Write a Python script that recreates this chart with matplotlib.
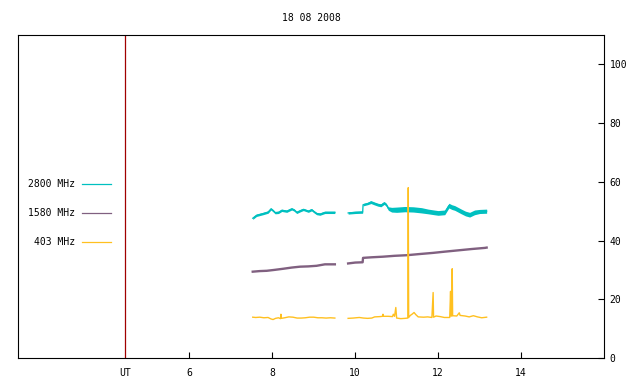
import matplotlib
matplotlib.use("Agg")
import matplotlib.pyplot as plt
import numpy as np

title = "18 08 2008"
series_names = ["2800 MHz", "1580 MHz", "403 MHz"]
colors = ["#00c0c0", "#806080", "#ffc020"]
marker_hour = 4.45
x_ticks = [6, 8, 10, 12, 14]
y_ticks = [0, 20, 40, 60, 80, 100]

# 2800 MHz (two segments): hours, values, band half-width
c1_t = [7.53, 7.62, 7.70, 7.78, 7.90, 7.97, 8.02, 8.07, 8.15, 8.23, 8.35, 8.47, 8.53, 8.59,
        8.68, 8.75, 8.87, 8.95, 9.01, 9.07, 9.15, 9.27, 9.40, 9.51]
c1_v = [47.6, 48.6, 48.9, 49.2, 49.7, 50.8, 50.2, 49.5, 49.6, 50.3, 50.0, 50.8, 50.4, 49.6,
        50.2, 50.6, 50.0, 50.5, 49.8, 49.2, 49.0, 49.6, 49.6, 49.6]
c1_s = [0.4] * len(c1_t)
c2_t = [9.83, 10.00, 10.18, 10.19, 10.30, 10.38, 10.47, 10.55, 10.62, 10.70, 10.75, 10.80,
        10.88, 11.00, 11.20, 11.40, 11.60, 11.76, 11.90, 12.00, 12.16, 12.26, 12.33, 12.40,
        12.48, 12.56, 12.66, 12.76, 12.88, 13.00, 13.17]
c2_v = [49.4, 49.6, 49.7, 52.2, 52.6, 53.1, 52.6, 52.2, 52.0, 52.8, 52.2, 50.9,
        50.5, 50.5, 50.7, 50.6, 50.3, 49.9, 49.6, 49.4, 49.6, 51.9, 51.4, 51.1,
        50.5, 49.9, 49.2, 48.8, 49.6, 49.9, 50.0]
c2_s = [0.4, 0.4, 0.4, 0.4, 0.4, 0.5, 0.5, 0.5, 0.5, 0.5, 0.5, 0.6,
        0.8, 0.9, 0.9, 0.9, 0.9, 0.8, 0.8, 0.8, 0.8, 0.8, 0.8, 0.8,
        0.8, 0.8, 0.8, 0.8, 0.8, 0.7, 0.7]

# 1580 MHz
p1_t = [7.53, 7.70, 7.87, 8.05, 8.27, 8.47, 8.67, 8.87, 9.07, 9.27, 9.51]
p1_v = [29.4, 29.6, 29.7, 30.0, 30.4, 30.8, 31.1, 31.2, 31.4, 31.9, 31.9]
p2_t = [9.83, 10.00, 10.18, 10.19, 10.40, 10.67, 10.95, 11.24, 11.55, 11.88, 12.15, 12.44,
        12.80, 13.13, 13.17]
p2_v = [32.2, 32.5, 32.6, 34.1, 34.3, 34.5, 34.8, 35.0, 35.4, 35.8, 36.2, 36.6,
        37.1, 37.5, 37.6]

# 403 MHz
o1_t = [7.53, 7.60, 7.70, 7.80, 7.90, 7.97, 8.02, 8.08, 8.15, 8.20, 8.21, 8.22, 8.30, 8.40,
        8.50, 8.60, 8.70, 8.80, 8.90, 9.00, 9.10, 9.20, 9.30, 9.40, 9.51]
o1_v = [13.9, 13.8, 13.9, 13.7, 13.8, 13.3, 13.1, 13.5, 13.7, 13.4, 14.9, 13.5, 13.7, 14.0,
        13.9, 13.6, 13.6, 13.7, 13.9, 13.9, 13.7, 13.7, 13.6, 13.7, 13.6]
o2_t = [9.83, 9.95, 10.10, 10.20, 10.30, 10.40, 10.47, 10.60, 10.66, 10.67, 10.68, 10.80,
        10.90, 10.92, 10.95, 10.98, 11.00, 11.10, 11.20, 11.27, 11.28, 11.29, 11.33, 11.38,
        11.42, 11.46, 11.52, 11.65, 11.75, 11.85, 11.88, 11.89, 11.95, 12.05, 12.15, 12.28,
        12.30, 12.31, 12.33, 12.34, 12.35, 12.45, 12.51, 12.53, 12.65, 12.75, 12.85, 12.95,
        13.05, 13.17]
o2_v = [13.5, 13.6, 13.8, 13.6, 13.5, 13.6, 14.0, 14.1, 14.2, 14.9, 14.2, 14.2,
        14.1, 14.9, 14.2, 17.2, 13.6, 13.4, 13.5, 13.6, 58.0, 13.8, 14.5, 15.0,
        15.5, 14.8, 14.0, 13.9, 14.0, 13.8, 22.3, 13.9, 14.3, 14.1, 13.8, 13.8,
        22.7, 14.3, 14.3, 30.4, 14.4, 14.3, 15.4, 14.5, 14.3, 14.0, 14.4, 14.0,
        13.7, 13.9]

font = "DejaVu Sans Mono"
fs = 7

fig = plt.figure(figsize=(6.4, 3.84), dpi=100)
ax = fig.add_axes([18 / 640, 26 / 384, 586 / 640, 323 / 384])
ax.set_xlim(1.87, 16.0)
ax.set_ylim(0, 110)

ax.axvline(marker_hour, color="#a00000", lw=0.9, zorder=1)

for t, v, s in [(c1_t, c1_v, c1_s), (c2_t, c2_v, c2_s)]:
    t = np.array(t); v = np.array(v); s = np.array(s)
    ax.fill_between(t, v - s, v + s, color=colors[0], lw=0, zorder=2)
    ax.plot(t, v, color=colors[0], lw=0.9, zorder=2)
for t, v in [(p1_t, p1_v), (p2_t, p2_v)]:
    ax.plot(t, v, color=colors[1], lw=1.7, zorder=2)
for t, v in [(o1_t, o1_v), (o2_t, o2_v)]:
    ax.plot(t, v, color=colors[2], lw=1.0, zorder=3)

for sp in ax.spines.values():
    sp.set_linewidth(0.8)
    sp.set_color("black")

ax.set_xticks([marker_hour] + x_ticks)
ax.set_xticklabels(["UT"] + [str(x) for x in x_ticks], fontfamily=font, fontsize=fs)
ax.tick_params(axis="x", direction="in", length=4, width=0.8, pad=7.5, top=False)
ax.xaxis.get_major_ticks()[0].tick1line.set_visible(False)

ax.yaxis.tick_right()
ax.set_yticks(y_ticks)
ax.set_yticklabels([str(y) for y in y_ticks], fontfamily=font, fontsize=fs)
ax.tick_params(axis="y", direction="in", length=4, width=0.8, pad=4, left=False, right=True)

leg_y = [0.538, 0.448, 0.359]
for name, col, yy in zip(series_names, colors, leg_y):
    ax.text(0.0973, yy, name, transform=ax.transAxes, ha="right", va="center",
            fontfamily=font, fontsize=fs)
    ax.plot([0.109, 0.158], [yy, yy], transform=ax.transAxes, color=col, lw=0.9,
            clip_on=False)

fig.text(311 / 640, 1 - 18 / 384, title, ha="center", va="center", fontfamily=font, fontsize=fs)

fig.savefig("out.png", dpi=100)
